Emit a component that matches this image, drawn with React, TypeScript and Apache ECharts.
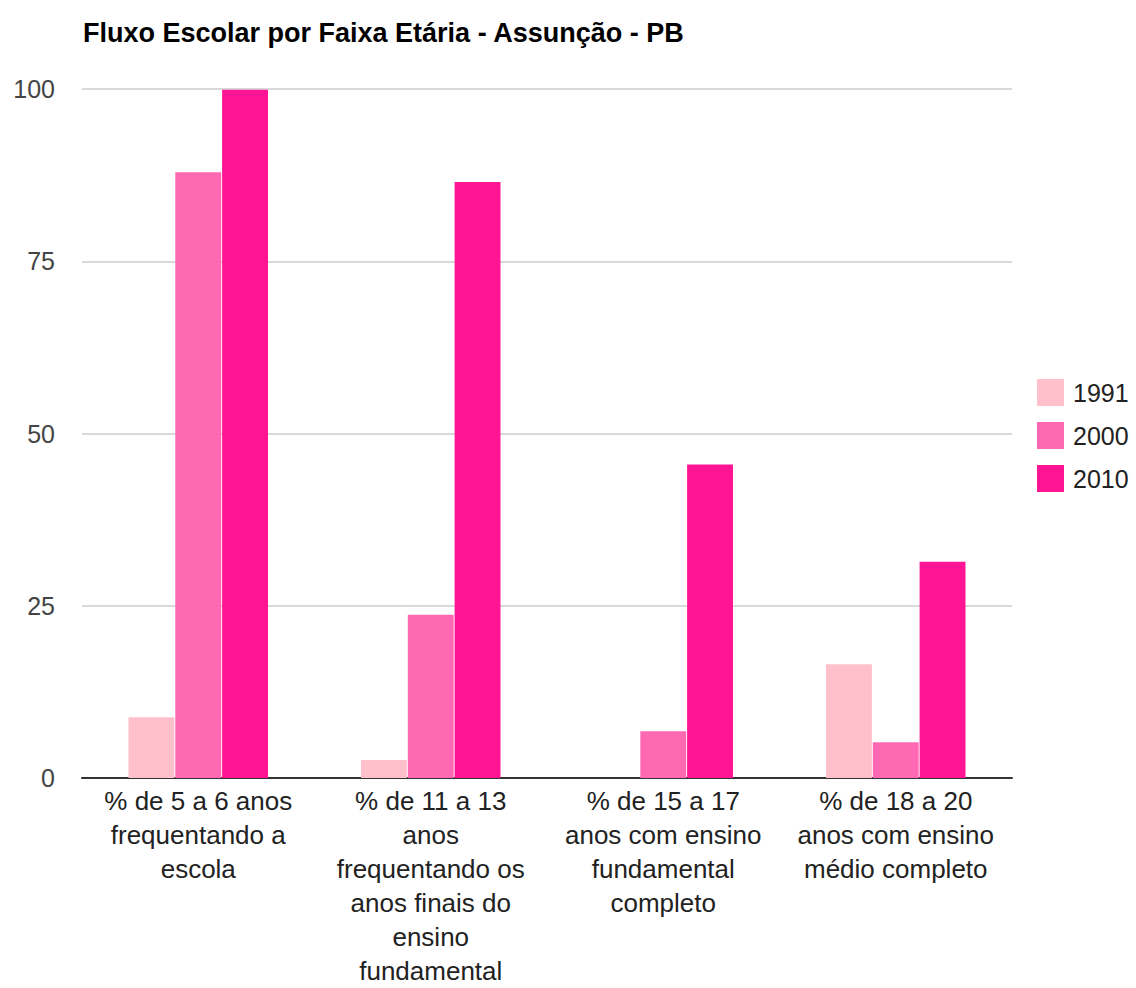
import React, { useEffect, useRef } from "react";
import * as echarts from "echarts";

const categories = [
  "% de 5 a 6 anos\nfrequentando a\nescola",
  "% de 11 a 13\nanos\nfrequentando os\nanos finais do\nensino\nfundamental",
  "% de 15 a 17\nanos com ensino\nfundamental\ncompleto",
  "% de 18 a 20\nanos com ensino\nmédio completo",
];
const seriesNames = ["1991", "2000", "2010"];
const values1991 = [8.8, 2.6, 0, 16.5];
const values2000 = [87.9, 23.7, 6.8, 5.2];
const values2010 = [99.9, 86.5, 45.5, 31.4];
const colors = ["#FFC0CB", "#FF69B4", "#FF1493"];
const yTicks = [0, 25, 50, 75, 100];

export default function App() {
  const ref = useRef<HTMLDivElement>(null);
  useEffect(() => {
    const chart = echarts.init(ref.current!, null, { renderer: "svg" });
    const font = "Liberation Sans, Arial, sans-serif";
    const data = [values1991, values2000, values2010];
    chart.setOption({
      animation: false,
      backgroundColor: "#ffffff",
      title: {
        text: "Fluxo Escolar por Faixa Etária - Assunção - PB",
        left: 78,
        top: 14,
        textStyle: { fontFamily: font, fontSize: 27, fontWeight: "bold", color: "#000" },
      },
      legend: {
        orient: "vertical",
        left: 1032,
        top: 374,
        itemWidth: 27,
        itemHeight: 27,
        itemGap: 16,
        icon: "rect",
        textStyle: { fontFamily: font, fontSize: 25, color: "#222", padding: [0, 0, 0, 4] },
        data: seriesNames,
      },
      grid: { left: 82, right: 124, top: 89, bottom: 196, containLabel: false },
      xAxis: {
        type: "category",
        data: categories,
        axisLine: { lineStyle: { color: "#333", width: 2 } },
        axisTick: { show: false },
        axisLabel: {
          fontFamily: font,
          fontSize: 26,
          color: "#222",
          lineHeight: 34,
          margin: 6,
          interval: 0,
          align: "center",
        },
      },
      yAxis: {
        type: "value",
        min: yTicks[0],
        max: yTicks[yTicks.length - 1],
        interval: 25,
        axisLine: { show: false },
        axisTick: { show: false },
        splitLine: { lineStyle: { color: "#cccccc", width: 1.5 } },
        axisLabel: { fontFamily: font, fontSize: 25, color: "#444", margin: 27 },
      },
      series: seriesNames.map((name, i) => ({
        name,
        type: "bar",
        data: data[i],
        barGap: "2%",
        barCategoryGap: "40%",
        itemStyle: { color: colors[i] },
      })),
    });
    return () => chart.dispose();
  }, []);
  return (
    <div
      ref={ref}
      style={{ position: "fixed", left: 0, top: 0, width: 1136, height: 988 }}
    />
  );
}
